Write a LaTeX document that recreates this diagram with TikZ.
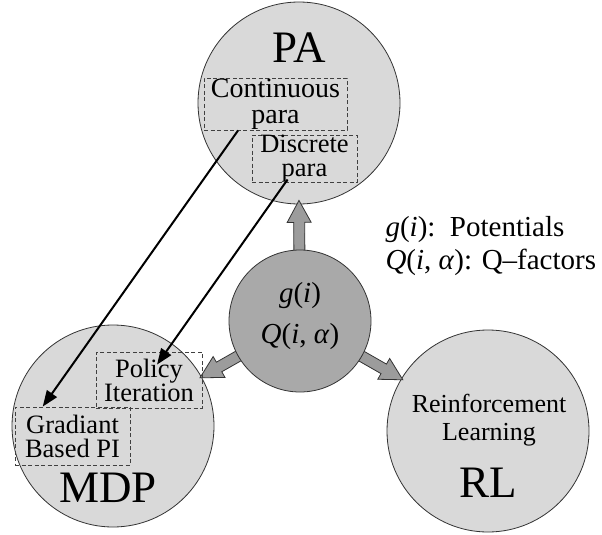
\documentclass[tikz,border=0pt]{standalone}
\usepackage{fontspec}
\setmainfont{Liberation Serif}
\usetikzlibrary{calc,arrows.meta}
\definecolor{lightc}{HTML}{D9D9D9}
\definecolor{midc}{HTML}{A9A9A9}
\definecolor{arrc}{HTML}{9C9C9C}
\definecolor{edgec}{HTML}{333333}
\newcommand\fatarrow[2]{%
  \coordinate (fa-a) at #1;
  \coordinate (fa-b) at #2;
  \coordinate (fa-h) at ($(fa-b)!22pt!(fa-a)$);
  \draw[fatshape] ($(fa-a)!5.5pt!90:(fa-b)$) -- ($(fa-h)!5.5pt!90:(fa-b)$)
    -- ($(fa-h)!12pt!90:(fa-b)$) -- (fa-b) -- ($(fa-h)!12pt!-90:(fa-b)$)
    -- ($(fa-h)!5.5pt!-90:(fa-b)$) -- ($(fa-a)!5.5pt!-90:(fa-b)$) -- cycle;}
\begin{document}
\begin{tikzpicture}[x=1pt,y=-1pt,
  bigcirc/.style={circle,draw=edgec,line width=0.8pt,fill=lightc,minimum size=202pt,inner sep=0pt},
  centcirc/.style={circle,draw=edgec,line width=0.8pt,fill=midc,minimum size=142pt,inner sep=0pt},
  centtext/.style={align=center,font=\fontsize{29}{41}\selectfont},
  fatshape/.style={draw=edgec,line width=0.8pt,fill=arrc,line join=miter},
  dbox/.style={draw=black!75,dashed,dash pattern=on 4pt off 2.5pt,line width=0.8pt,inner sep=0pt,
    align=center,font=\fontsize{26.5}{24}\selectfont},
  bigtext/.style={font=\fontsize{45}{50}\selectfont},
  midtext/.style={align=center,font=\fontsize{26}{28}\selectfont},
  blkarrow/.style={line width=2pt,-{Triangle[length=16pt,width=12pt]}}]
\useasboundingbox (0,0) rectangle (602,535);
% outer circles
\node[bigcirc] (pa) at (299,103) {};
\node[bigcirc] (mdp) at (113,426) {};
\node[bigcirc] (rl) at (488,431) {};
% fat arrows (drawn below the centre circle)
\fatarrow{(300,321)}{($(pa.south)!-4pt!(300,321)$)}
\fatarrow{(300,321)}{($(mdp.29.3)!-2pt!(300,321)$)}
\fatarrow{(300,321)}{($(rl.149.7)!-2pt!(300,321)$)}
% centre circle
\node[centcirc] (c) at (300,321) {};
\node[centtext] (ctext) at (300,316) {\textit{g}(\textit{i})\\\textit{Q}(\textit{i}, \textit{α})};
% labels in circles
\node[bigtext] (patext) at (299,48) {PA};
\node[bigtext] (mdptext) at (108,488) {MDP};
\node[bigtext] (rltext) at (488,483) {RL};
\node[midtext] (rlsub) at (489,420) {Reinforcement\\Learning};
% dashed boxes
\node[dbox,minimum width=143pt,minimum height=52pt,font=\fontsize{28}{26}\selectfont] (cont) at (275.5,104) {Continuous\\para};
\node[dbox,minimum width=105pt,minimum height=47pt] (disc) at (304.5,158.5) {Discrete\\para};
\node[dbox,minimum width=106pt,minimum height=56pt] (pol) at (149,380) {Policy\\Iteration};
\node[dbox,minimum width=115pt,minimum height=58pt] (grad) at (72.5,436) {Gradiant\\Based PI};
% black arrows
\draw[blkarrow] ($(cont.south west)!0.24!(cont.south east)$) -- ($(grad.north west)!0.243!(grad.north east)$);
\draw[blkarrow] ($(disc.south west)!0.34!(disc.south east)+(0,-3)$) -- ($(pol.north west)!0.575!(pol.north east)+(0,13)$);
% legend
\node[align=left,anchor=west,font=\fontsize{29}{33}\selectfont] (legend) at (382,246)
  {\textit{g}(\textit{i}):\ \ Potentials\\\textit{Q}(\textit{i}, \textit{α}): Q–factors};
\end{tikzpicture}
\end{document}
